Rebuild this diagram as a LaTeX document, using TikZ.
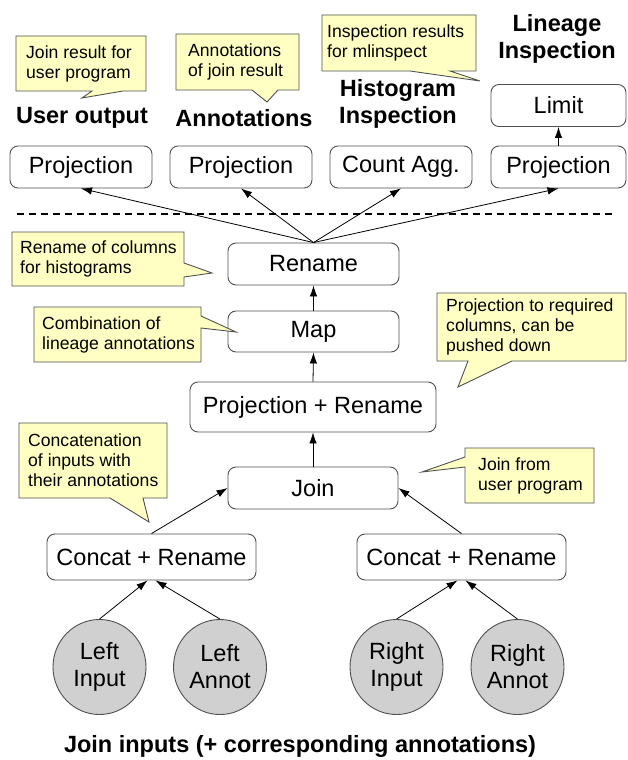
\documentclass[tikz,border=0pt]{standalone}
\usepackage{fontspec}
\setmainfont{Liberation Sans}
\usetikzlibrary{arrows.meta,shapes.geometric}
\definecolor{callfill}{HTML}{FFFFC4}
\definecolor{boxline}{HTML}{505050}
\definecolor{inputfill}{HTML}{D0D0D0}
\tikzset{
  opbox/.style={draw=boxline, line width=0.9pt, rounded corners=8pt, fill=white,
    font=\fontsize{23.5}{27}\selectfont, inner sep=0pt, align=center},
  inputnode/.style={ellipse, draw=boxline, line width=0.9pt, fill=inputfill,
    minimum width=93pt, minimum height=95pt, inner sep=0pt, align=center,
    font=\fontsize{23.5}{27}\selectfont},
  header/.style={font=\bfseries\fontsize{23.5}{27}\selectfont, align=center, inner sep=0pt},
  callout/.style={draw=boxline, line width=0.9pt, fill=callfill, line join=miter},
  calltext/.style={anchor=west, align=left, inner sep=0pt,
    font=\fontsize{17.6}{20}\selectfont},
  flow/.style={-{Latex[length=11pt,width=7.5pt]}, line width=0.8pt, black},
}
\begin{document}
\begin{tikzpicture}[x=1pt,y=-1pt]
\useasboundingbox (0,0) rectangle (627,760);

% top row
\node[opbox, minimum width=142pt, minimum height=42pt] (p1) at (81,167) {Projection};
\node[opbox, minimum width=142pt, minimum height=42pt] (p2) at (241,167) {Projection};
\node[opbox, minimum width=142pt, minimum height=42pt] (cnt) at (401,167) {Count Agg.};
\node[opbox, minimum width=135pt, minimum height=42pt] (p4) at (558.5,167) {Projection};
\node[opbox, minimum width=135pt, minimum height=42pt] (lim) at (558.5,105.5) {Limit};

% headers
\node[header] (h1) at (82,118) {User output};
\node[header] (h2) at (244,118) {Annotations};
\node[header] (h3) at (398,103.5) {Histogram\\Inspection};
\node[header] (h4) at (557,38.5) {Lineage\\Inspection};

% separator
\draw[line width=2.5pt, dash pattern=on 7pt off 5pt] (17,214) -- (615,214);

% middle column
\node[opbox, minimum width=171pt, minimum height=42pt] (ren) at (313.5,264) {Rename};
\node[opbox, minimum width=171pt, minimum height=41pt] (map) at (313.5,331.5) {Map};
\node[opbox, minimum width=246pt, minimum height=50pt] (pr) at (313,407) {Projection + Rename};
\node[opbox, minimum width=170pt, minimum height=42pt] (join) at (313,488) {Join};
\node[opbox, minimum width=209pt, minimum height=46pt] (cl) at (151.5,557) {Concat + Rename};
\node[opbox, minimum width=209pt, minimum height=46pt] (cr) at (461.5,557) {Concat + Rename};

% inputs
\node[inputnode] (li) at (99.5,667) {Left\\Input};
\node[inputnode] (la) at (220,667) {Left\\Annot};
\node[inputnode] (ri) at (396.5,667) {Right\\Input};
\node[inputnode] (ra) at (517.5,667) {Right\\Annot};

\node[header] (foot) at (300,746) {Join inputs (+ corresponding annotations)};

% connectors
\draw[flow] (ren.north) -- (p1.south);
\draw[flow] (ren.north) -- (p2.south);
\draw[flow] (ren.north) -- (cnt.south);
\draw[flow] (ren.north) -- (p4.south);
\draw[flow] (p4.north) -- (lim.south);
\draw[flow] (map.north) -- (ren.south);
\draw[flow] (pr.north) -- (map.south);
\draw[flow] (join.north) -- (pr.south);
\draw[flow] (cl.north) -- (join.west);
\draw[flow] (cr.north) -- (join.east);
\draw[flow] (li.north) -- ([xshift=-4pt]cl.south);
\draw[flow] (la.north) -- ([xshift=4pt]cl.south);
\draw[flow] (ri.north) -- ([xshift=-4pt]cr.south);
\draw[flow] (ra.north) -- ([xshift=4pt]cr.south);

% callouts
\draw[callout] (16,36) -- (146,36) -- (146,91) -- (123,91) -- (82,98) -- (92,91) -- (16,91) -- cycle;
\node[calltext] (c1) at (26,63.5) {Join result for\\user program};

\draw[callout] (176,34) -- (299,34) -- (299,90) -- (278,90) -- (267,102) -- (252,90) -- (176,90) -- cycle;
\node[calltext] (c2) at (188,62) {Annotations\\of join result};

\draw[callout] (322,15) -- (476,15) -- (476,71) -- (450,71) -- (480,81) -- (410,71) -- (322,71) -- cycle;
\node[calltext] (c3) at (327,43) {Inspection results\\for mlinspect};

\draw[callout] (12,232) -- (184,232) -- (184,263) -- (212,273) -- (184,277) -- (184,286) -- (12,286) -- cycle;
\node[calltext] (c4) at (20,259) {Rename of columns\\for histograms};

\draw[callout] (34,307) -- (201,307) -- (201,316) -- (236,332) -- (201,328) -- (201,362) -- (34,362) -- cycle;
\node[calltext] (c5) at (42,334.5) {Combination of\\lineage annotations};

\draw[callout] (437,293) -- (626,293) -- (626,361) -- (512,361) -- (458,387) -- (468,361) -- (437,361) -- cycle;
\node[calltext] (c6) at (446,327) {Projection to required\\columns, can be\\pushed down};

\draw[callout] (465,448) -- (594,448) -- (594,503) -- (465,503) -- (465,467) -- (422,472) -- (465,457) -- cycle;
\node[calltext] (c7) at (478,475.5) {Join from\\user program};

\draw[callout] (19,423) -- (167,423) -- (167,498) -- (143,498) -- (149,522) -- (110,498) -- (19,498) -- cycle;
\node[calltext] (c8) at (28,460.5) {Concatenation\\of inputs with\\their annotations};
\end{tikzpicture}
\end{document}
